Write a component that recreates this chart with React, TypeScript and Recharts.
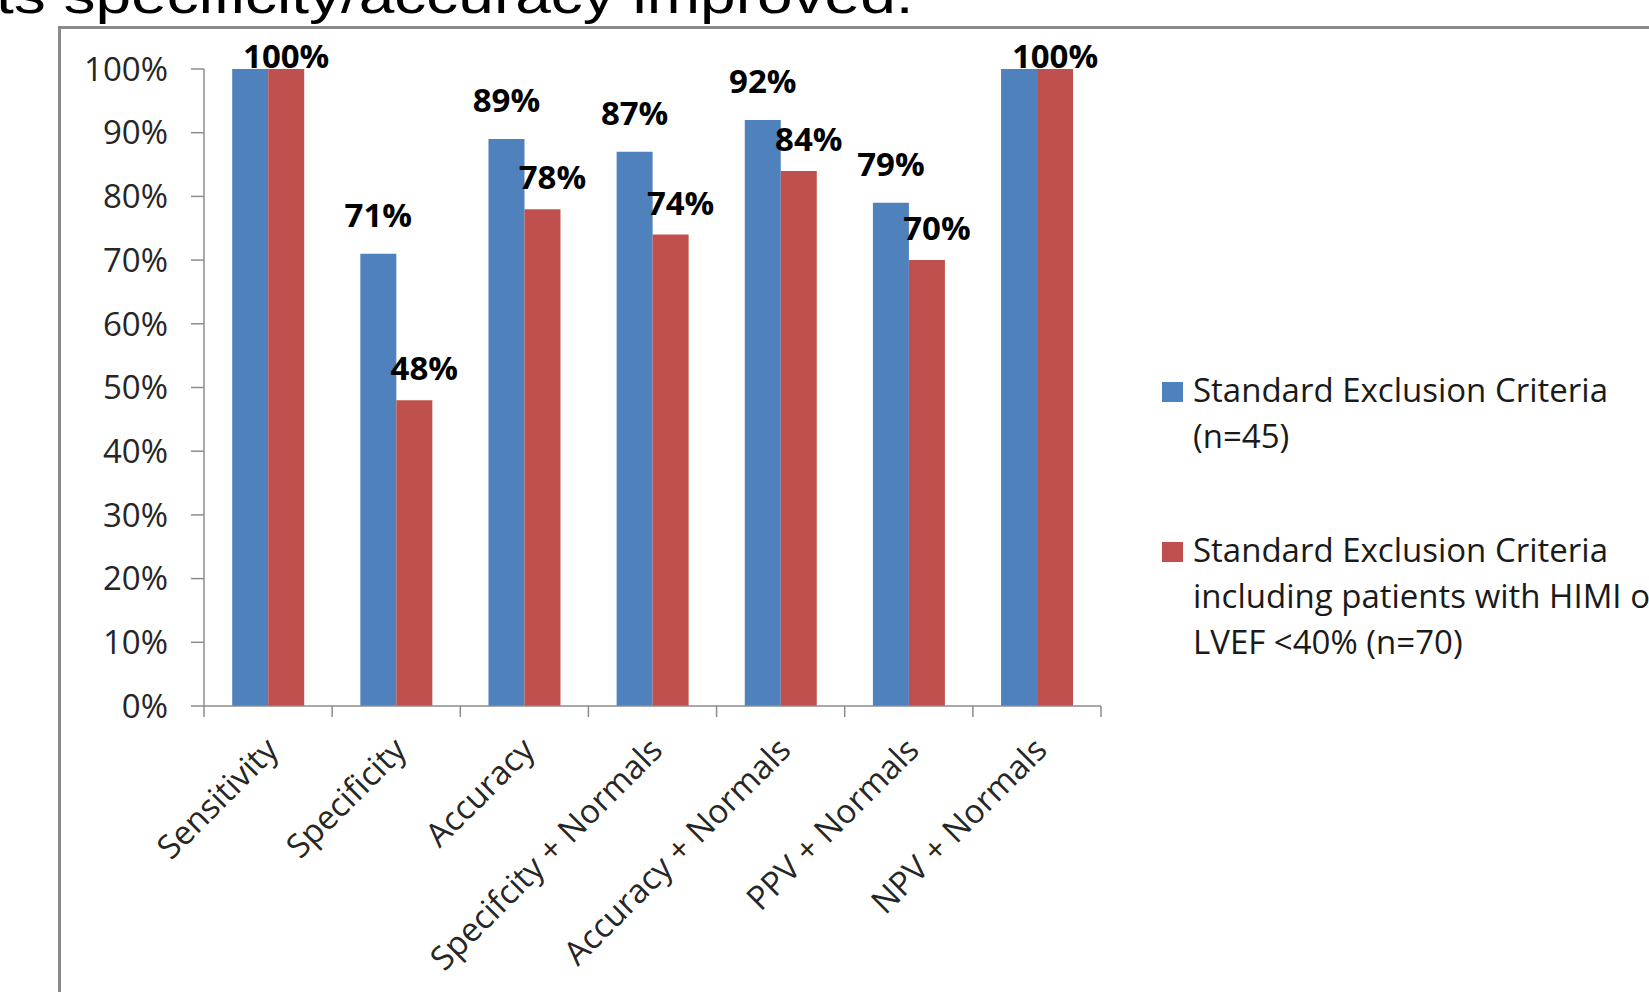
import { BarChart, Bar, XAxis, YAxis, Legend, LabelList } from 'recharts'

// performance of the two exclusion-criteria groups
const categories = [
  'Sensitivity',
  'Specificity',
  'Accuracy',
  'Specifcity + Normals',
  'Accuracy + Normals',
  'PPV + Normals',
  'NPV + Normals',
]
const standard = [100, 71, 89, 87, 92, 79, 100]
const included = [100, 48, 78, 74, 84, 70, 100]
const yTicks = [0, 10, 20, 30, 40, 50, 60, 70, 80, 90, 100]
const seriesNames = [
  'Standard Exclusion Criteria (n=45)',
  'Standard Exclusion Criteria including patients with HIMI or LVEF <40% (n=70)',
]
const title = 'ts specificity/accuracy improved.'

const data = categories.map((name, i) => ({ name, standard: standard[i], included: included[i] }))

const FONT = "'Open Sans', sans-serif"
const BLUE = '#4F81BD'
const RED = '#C0504D'
const AXIS = '#8c8c8c'
const TEXT = '#262626'
const PLOT_TOP = 69

// category labels at 45°, tick marks on the band edges like Excel
function CategoryTick(props: any) {
  const { x, y, payload, index, visibleTicksCount } = props
  const half = payload?.offset ?? 64
  const isLast = index === visibleTicksCount - 1
  return (
    <g>
      <line x1={x - half} x2={x - half} y1={y - 11} y2={y} stroke={AXIS} strokeWidth={1.5} />
      {isLast && <line x1={x + half} x2={x + half} y1={y - 11} y2={y} stroke={AXIS} strokeWidth={1.5} />}
      <text
        transform={`translate(${x + 12},${y + 35}) rotate(-45)`}
        textAnchor="end"
        fontSize={33}
        fontFamily={FONT}
        fill={TEXT}
      >
        {payload.value}
      </text>
    </g>
  )
}

const labelText = (cx: number, baseline: number, value: number) => (
  <text x={cx} y={baseline} textAnchor="middle" fontSize={33} fontWeight="bold" fontFamily={FONT} fill="#000">
    {`${value}%`}
  </text>
)

// blue labels sit centred above the bar; skipped where both groups are equal (one label covers both)
const renderStandardLabel = (props: any) => {
  const { x, y, width, value, index } = props
  if (value === included[index]) return null
  return labelText(x + width / 2, Math.max(y - 27, PLOT_TOP - 1), value)
}

// red labels are nudged right of the bar
const renderIncludedLabel = (props: any) => {
  const { x, y, width, value } = props
  const shift = value >= 100 ? 0 : 10
  return labelText(x + width / 2 + shift, Math.max(y - 20, PLOT_TOP - 1), value)
}

const renderLegend = (props: any) => {
  const items = props.payload ?? []
  return (
    <div style={{ fontFamily: FONT, fontSize: 33, lineHeight: '46px', color: '#1a1a1a' }}>
      {items.map((item: any, i: number) => (
        <div key={i} style={{ position: 'relative', paddingLeft: 31, marginBottom: 68 }}>
          <span
            style={{ position: 'absolute', left: 0, top: 15, width: 21, height: 20, background: item.color }}
          />
          <div style={{ width: 490, whiteSpace: 'normal' }}>{item.value}</div>
        </div>
      ))}
    </div>
  )
}

export default function App() {
  return (
    <div
      style={{
        position: 'absolute',
        left: 0,
        top: 0,
        width: 1649,
        height: 992,
        overflow: 'hidden',
        background: '#fff',
      }}
    >
      <div
        style={{
          position: 'absolute',
          left: 58,
          top: 26,
          width: 1800,
          height: 1200,
          border: '3px solid #8a8a8a',
          boxSizing: 'border-box',
        }}
      />
      <svg width={1649} height={40} style={{ position: 'absolute', left: 0, top: 0 }}>
        <text
          transform="translate(-4,13.3) scale(1.255,1)"
          fontSize={51}
          fontFamily="'Liberation Sans', Arial, sans-serif"
          fill="#000"
        >
          {title}
        </text>
      </svg>
      <div style={{ position: 'absolute', left: 0, top: 0 }}>
        <BarChart
          width={1649}
          height={992}
          data={data}
          margin={{ top: PLOT_TOP, right: 548, left: 0, bottom: 0 }}
          barCategoryGap="22%"
          barGap={0}
        >
          <YAxis
            type="number"
            domain={[0, 100]}
            ticks={yTicks}
            interval={0}
            width={204}
            tickFormatter={(v: number) => `${v}%`}
            tickSize={13}
            tickMargin={23}
            axisLine={{ stroke: AXIS, strokeWidth: 1.5 }}
            tickLine={{ stroke: AXIS, strokeWidth: 1.5 }}
            tick={{ fontSize: 33, fontFamily: FONT, fill: TEXT }}
          />
          <XAxis
            dataKey="name"
            height={286}
            interval={0}
            tickSize={11}
            tickMargin={0}
            tickLine={false}
            axisLine={{ stroke: AXIS, strokeWidth: 1.5 }}
            tick={(p: any) => <CategoryTick {...p} />}
          />
          <Legend
            layout="vertical"
            align="center"
            verticalAlign="middle"
            wrapperStyle={{ left: 1162, top: 367, width: 560 }}
            content={renderLegend}
          />
          <Bar dataKey="standard" name={seriesNames[0]} fill={BLUE} isAnimationActive={false}>
            <LabelList dataKey="standard" content={renderStandardLabel} />
          </Bar>
          <Bar dataKey="included" name={seriesNames[1]} fill={RED} isAnimationActive={false}>
            <LabelList dataKey="included" content={renderIncludedLabel} />
          </Bar>
        </BarChart>
      </div>
    </div>
  )
}
